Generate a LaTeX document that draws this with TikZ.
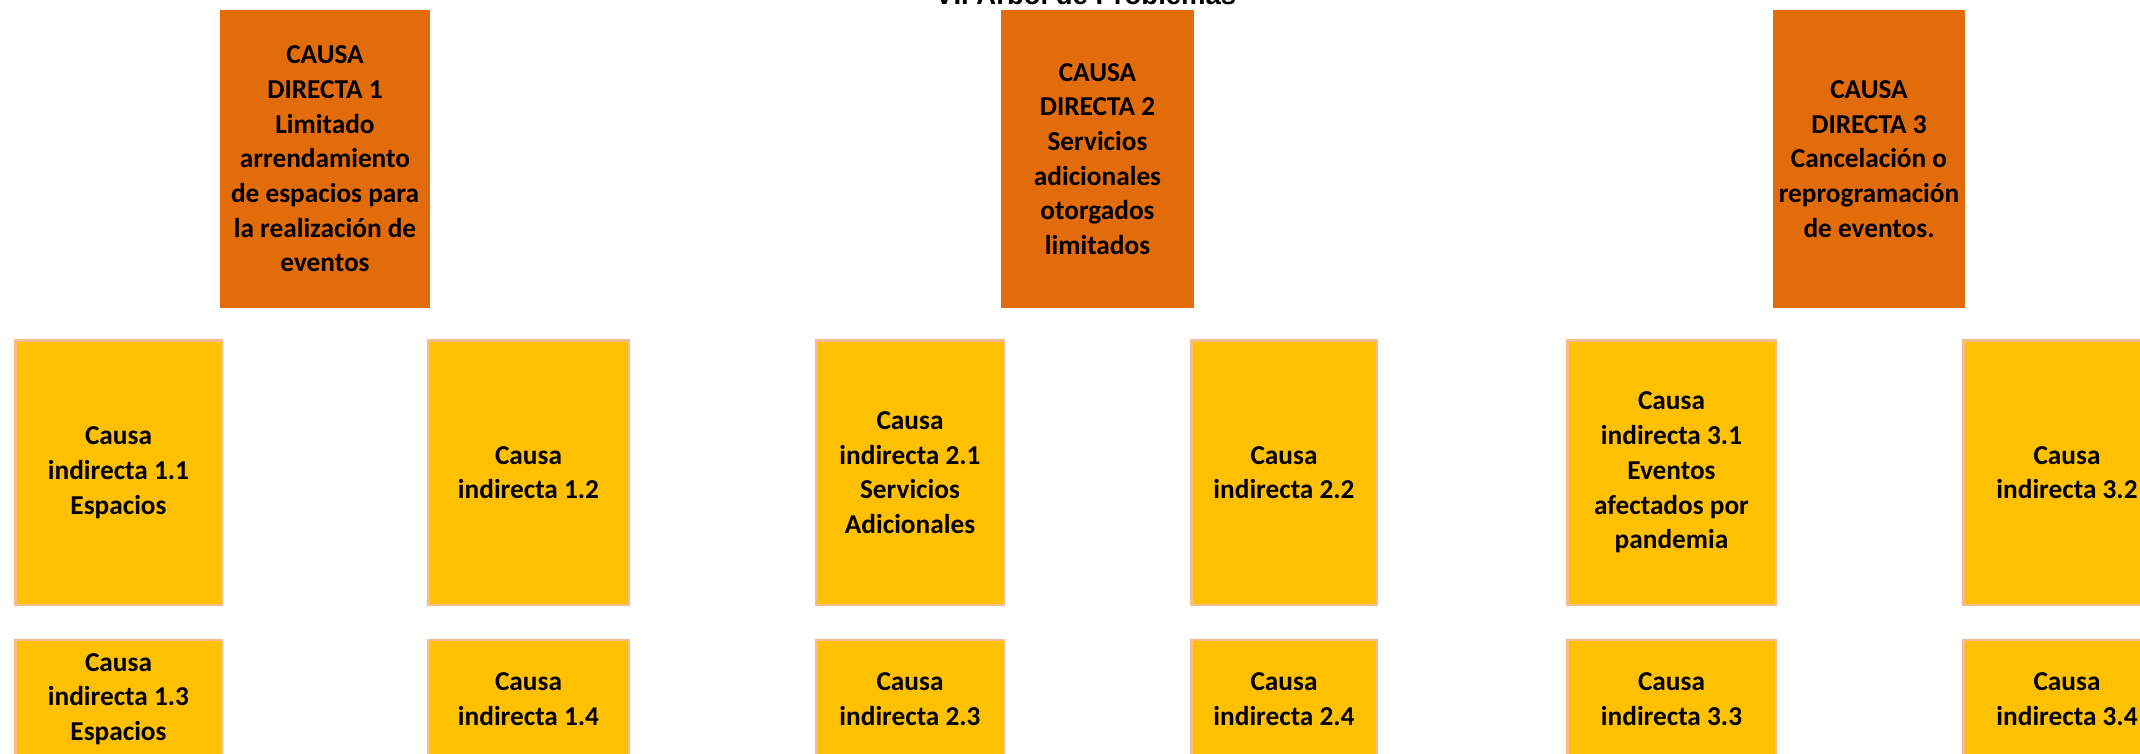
\documentclass[tikz,border=0pt]{standalone}
\usepackage{fontspec}
\setmainfont{Carlito}
\newfontfamily\titlefont{Liberation Sans}
\definecolor{dirorange}{HTML}{E36C0A}
\definecolor{indyellow}{HTML}{FFC000}
\definecolor{indborder}{HTML}{F6BB8C}
\begin{document}
\begin{tikzpicture}[x=1pt,y=-1pt,
  boxtext/.style={font=\fontsize{27.3}{34.7}\selectfont\bfseries, align=center, text=black},
  directbox/.style={boxtext, rectangle, fill=dirorange, draw=none, inner sep=0pt, minimum height=298pt},
  indbox/.style={boxtext, rectangle, fill=indyellow, draw=indborder, line width=2.5pt, inner sep=0pt},
  rowtwo/.style={indbox, minimum height=264.5pt},
  rowthree/.style={indbox, minimum height=118pt}]
\useasboundingbox (0,0) rectangle (2140,754);
% title
\node[font=\titlefont\fontsize{27.5}{33}\selectfont\bfseries, anchor=base west, inner sep=0pt] (title) at (935,5) {VI. Árbol de Problemas};
% direct causes
\node[directbox, minimum width=210pt] (d1) at (325,159) {CAUSA\\DIRECTA 1\\Limitado\\arrendamiento\\de espacios para\\la realización de\\eventos};
\node[directbox, minimum width=193pt] (d2) at (1097.5,159) {CAUSA\\DIRECTA 2\\Servicios\\adicionales\\otorgados\\limitados};
\node[directbox, minimum width=192pt] (d3) at (1869,159) {CAUSA\\DIRECTA 3\\Cancelación o\\reprogramación\\de eventos.};
% indirect causes, row 2
\node[rowtwo, minimum width=206.5pt] (i11) at (118.5,472.5) {Causa\\indirecta 1.1\\Espacios};
\node[rowtwo, minimum width=200.5pt] (i12) at (528.5,472.5) {Causa\\indirecta 1.2};
\node[rowtwo, minimum width=187.5pt] (i21) at (910,472.5) {Causa\\indirecta 2.1\\Servicios\\Adicionales};
\node[rowtwo, minimum width=185.5pt] (i22) at (1284,472.5) {Causa\\indirecta 2.2};
\node[rowtwo, minimum width=208.5pt] (i31) at (1671.5,472.5) {Causa\\indirecta 3.1\\Eventos\\afectados por\\pandemia};
\node[rowtwo, minimum width=207.5pt] (i32) at (2067,472.5) {Causa\\indirecta 3.2};
% indirect causes, row 3
\node[rowthree, minimum width=206.5pt] (i13) at (118.5,699) {Causa\\indirecta 1.3\\Espacios};
\node[rowthree, minimum width=200.5pt] (i14) at (528.5,699) {Causa\\indirecta 1.4};
\node[rowthree, minimum width=187.5pt] (i23) at (910,699) {Causa\\indirecta 2.3};
\node[rowthree, minimum width=185.5pt] (i24) at (1284,699) {Causa\\indirecta 2.4};
\node[rowthree, minimum width=208.5pt] (i33) at (1671.5,699) {Causa\\indirecta 3.3};
\node[rowthree, minimum width=207.5pt] (i34) at (2067,699) {Causa\\indirecta 3.4};
\end{tikzpicture}
\end{document}
